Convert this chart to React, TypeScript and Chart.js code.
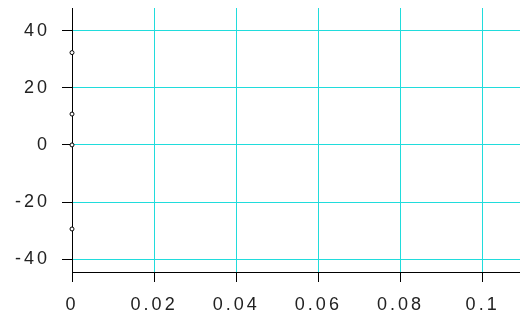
import React, { useEffect, useRef } from "react";
import { Chart, registerables } from "chart.js";

Chart.register(...registerables);

const pointX = [0, 0, 0, 0];
const pointY = [32.3, 10.8, 0, -29.4];
const xTicks = [0, 0.02, 0.04, 0.06, 0.08, 0.1];
const yTicks = [-40, -20, 0, 20, 40];

const spacingPlugin = {
  id: "spacing",
  beforeLayout(chart: any) {
    chart.ctx.letterSpacing = "3px";
  },
  beforeDraw(chart: any) {
    chart.ctx.letterSpacing = "3px";
  },
};

export default function App() {
  const ref = useRef<HTMLCanvasElement | null>(null);
  useEffect(() => {
    if (!ref.current) return;
    const chart = new Chart(ref.current, {
      type: "scatter",
      data: {
        datasets: [
          {
            data: pointX.map((x, i) => ({ x, y: pointY[i] })),
            pointRadius: 2,
            pointBorderWidth: 1,
            pointBorderColor: "#000",
            pointBackgroundColor: "#fff",
            clip: false,
          },
        ],
      },
      plugins: [spacingPlugin],
      options: {
        animation: false,
        responsive: true,
        maintainAspectRatio: false,
        layout: { autoPadding: false, padding: { top: 8, right: 0, left: 0, bottom: 0 } },
        plugins: { legend: { display: false }, tooltip: { enabled: false } },
        scales: {
          x: {
            type: "linear",
            min: 0,
            max: 0.1091,
            afterBuildTicks: (s: any) => {
              s.ticks = xTicks.map((v) => ({ value: v }));
            },
            afterFit: (s: any) => {
              s.height = 43;
              s.paddingLeft = 0;
              s.paddingRight = 0;
            },
            grid: { color: "#20dcdc", tickColor: "#000", tickLength: 10, lineWidth: 1 },
            border: { color: "#000", width: 1 },
            ticks: {
              color: "#222",
              padding: 12,
              maxRotation: 0,
              autoSkip: false,
              font: { family: "Liberation Sans", size: 18 },
              callback: (v: any) => String(v),
            },
          },
          y: {
            type: "linear",
            min: -44.45,
            max: 47.9,
            afterBuildTicks: (s: any) => {
              s.ticks = yTicks.map((v) => ({ value: v }));
            },
            afterFit: (s: any) => {
              s.width = 72;
              s.paddingTop = 0;
              s.paddingBottom = 0;
            },
            grid: { color: "#20dcdc", tickColor: "#000", tickLength: 10, lineWidth: 1 },
            border: { color: "#000", width: 1 },
            ticks: {
              color: "#222",
              padding: 12,
              autoSkip: false,
              font: { family: "Liberation Sans", size: 18 },
              callback: (v: any) => String(v),
            },
          },
        },
      },
    });
    return () => chart.destroy();
  }, []);
  return (
    <div style={{ position: "fixed", left: 0, top: 0, width: 520, height: 315, background: "#fff" }}>
      <canvas ref={ref} />
    </div>
  );
}
